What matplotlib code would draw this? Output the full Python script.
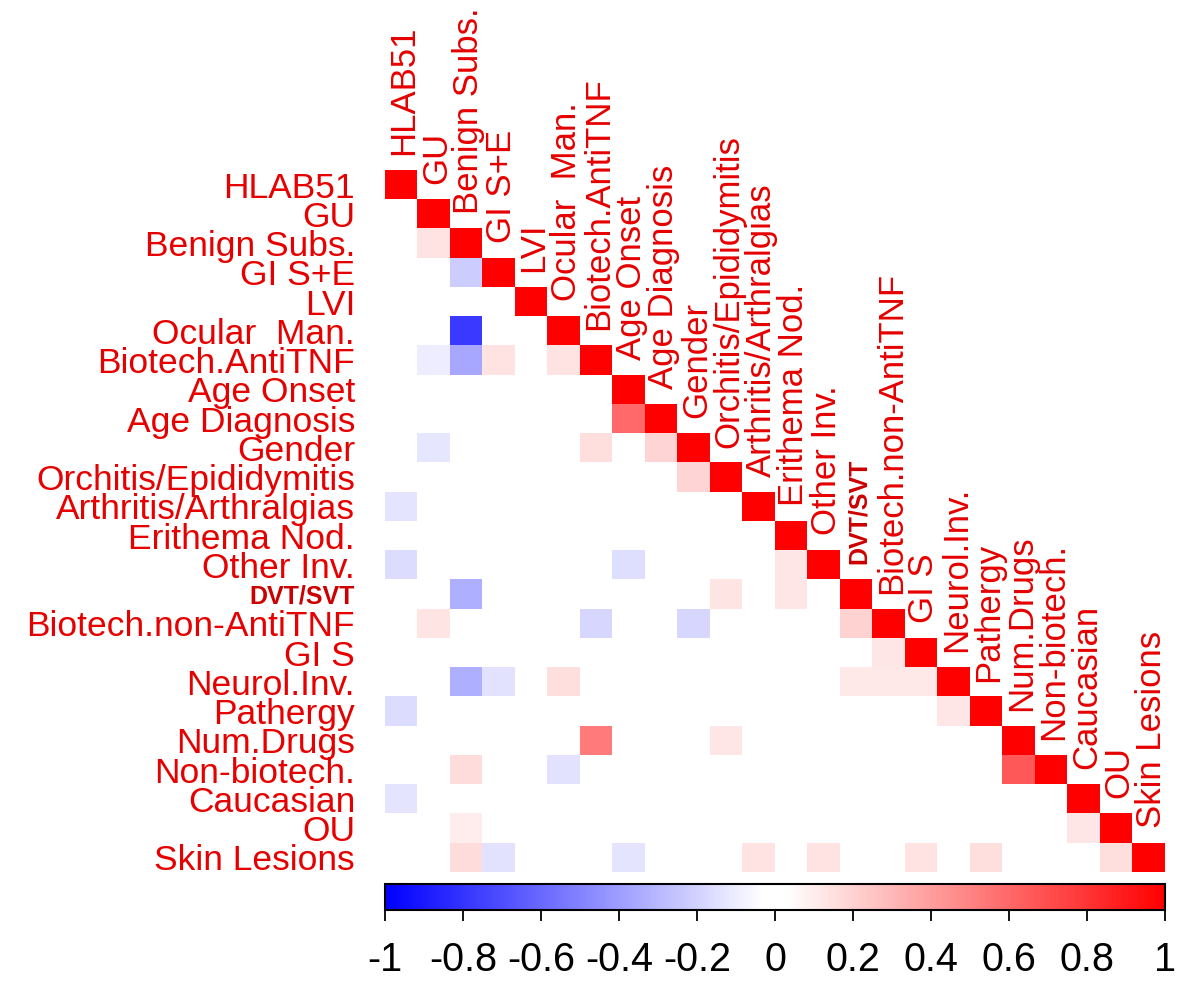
import numpy as np
import matplotlib.pyplot as plt
from matplotlib.colors import LinearSegmentedColormap

plt.rcParams['font.family'] = ['Liberation Sans', 'DejaVu Sans']

# variables, in matrix order
labels = ["HLAB51", "GU", "Benign Subs.", "GI S+E", "LVI", "Ocular  Man.",
          "Biotech.AntiTNF", "Age Onset", "Age Diagnosis", "Gender",
          "Orchitis/Epididymitis", "Arthritis/Arthralgias", "Erithema Nod.",
          "Other Inv.", "DVT/SVT", "Biotech.non-AntiTNF", "GI S", "Neurol.Inv.",
          "Pathergy", "Num.Drugs", "Non-biotech.", "Caucasian", "OU", "Skin Lesions"]

# non-zero off-diagonal correlations (row variable, column variable, r)
links = [
    ("Benign Subs.", "GU", 0.14),
    ("GI S+E", "Benign Subs.", -0.22),
    ("Ocular  Man.", "Benign Subs.", -0.78),
    ("Biotech.AntiTNF", "GU", -0.1),
    ("Biotech.AntiTNF", "Benign Subs.", -0.36),
    ("Biotech.AntiTNF", "GI S+E", 0.14),
    ("Biotech.AntiTNF", "Ocular  Man.", 0.14),
    ("Age Diagnosis", "Age Onset", 0.6),
    ("Gender", "GU", -0.12),
    ("Gender", "Biotech.AntiTNF", 0.15),
    ("Gender", "Age Diagnosis", 0.19),
    ("Orchitis/Epididymitis", "Gender", 0.19),
    ("Arthritis/Arthralgias", "HLAB51", -0.13),
    ("Other Inv.", "HLAB51", -0.16),
    ("Other Inv.", "Age Onset", -0.15),
    ("Other Inv.", "Erithema Nod.", 0.12),
    ("DVT/SVT", "Benign Subs.", -0.33),
    ("DVT/SVT", "Orchitis/Epididymitis", 0.13),
    ("DVT/SVT", "Erithema Nod.", 0.12),
    ("Biotech.non-AntiTNF", "GU", 0.13),
    ("Biotech.non-AntiTNF", "Biotech.AntiTNF", -0.18),
    ("Biotech.non-AntiTNF", "Gender", -0.18),
    ("Biotech.non-AntiTNF", "DVT/SVT", 0.2),
    ("GI S", "Biotech.non-AntiTNF", 0.12),
    ("Neurol.Inv.", "Benign Subs.", -0.33),
    ("Neurol.Inv.", "GI S+E", -0.14),
    ("Neurol.Inv.", "Ocular  Man.", 0.15),
    ("Neurol.Inv.", "DVT/SVT", 0.11),
    ("Neurol.Inv.", "Biotech.non-AntiTNF", 0.11),
    ("Neurol.Inv.", "GI S", 0.11),
    ("Pathergy", "HLAB51", -0.16),
    ("Pathergy", "Neurol.Inv.", 0.12),
    ("Num.Drugs", "Biotech.AntiTNF", 0.53),
    ("Num.Drugs", "Orchitis/Epididymitis", 0.12),
    ("Non-biotech.", "Benign Subs.", 0.16),
    ("Non-biotech.", "Ocular  Man.", -0.14),
    ("Non-biotech.", "Num.Drugs", 0.66),
    ("Caucasian", "HLAB51", -0.13),
    ("OU", "Benign Subs.", 0.1),
    ("OU", "Caucasian", 0.12),
    ("Skin Lesions", "Benign Subs.", 0.16),
    ("Skin Lesions", "GI S+E", -0.14),
    ("Skin Lesions", "Age Onset", -0.13),
    ("Skin Lesions", "Arthritis/Arthralgias", 0.14),
    ("Skin Lesions", "Other Inv.", 0.14),
    ("Skin Lesions", "GI S", 0.14),
    ("Skin Lesions", "Pathergy", 0.15),
    ("Skin Lesions", "OU", 0.15),
]

cbar_ticks = [-1, -0.8, -0.6, -0.4, -0.2, 0, 0.2, 0.4, 0.6, 0.8, 1]
cbar_ticklabels = ["-1", "-0.8", "-0.6", "-0.4", "-0.2", "0", "0.2", "0.4", "0.6", "0.8", "1"]

# build lower triangular matrix
n = len(labels)
idx = {name: k for k, name in enumerate(labels)}
corr = np.full((n, n), np.nan)
for i in range(n):
    corr[i, :i] = 0.0
    corr[i, i] = 1.0
for a, b, r in links:
    corr[idx[a], idx[b]] = r

cmap = LinearSegmentedColormap.from_list(
    "bwr_corr", [(0, "#0000ff"), (0.485, "#ffffff"), (0.515, "#ffffff"), (1, "#ff0000")])
cmap.set_bad("white")

txt_red = "#e60000"

fig = plt.figure(figsize=(11.81, 9.92), dpi=100)
W, H = 1181, 992
ax = fig.add_axes([385 / W, 1 - 872 / H, 780 / W, 702 / H])
im = ax.imshow(np.ma.masked_invalid(corr), cmap=cmap, vmin=-1, vmax=1,
               aspect="auto", interpolation="nearest")
ax.set_xlim(-0.5, n - 0.5)
ax.set_ylim(n - 0.5, -0.5)
ax.set_axis_off()

# labels on the left and along the diagonal
for k, name in enumerate(labels):
    if name == "DVT/SVT":
        kw = dict(fontsize=18, fontweight="bold", color="#cc0000")
        kw_top = dict(fontsize=18, fontweight="bold", color="#cc0000")
    else:
        kw = dict(fontsize=25.5, color=txt_red)
        kw_top = dict(fontsize=25, color=txt_red)
    ax.text(-0.5 - 30 / 32.5, k, name, ha="right", va="center_baseline",
            clip_on=False, **kw)
    ax.text(k + 0.08, k - 0.5 - 15 / 29.25, name, rotation=90, ha="center",
            va="bottom", clip_on=False, **kw_top)

# colour bar under the matrix
cax = fig.add_axes([385 / W, 1 - 910 / H, 780 / W, 26 / H])
cb = fig.colorbar(im, cax=cax, orientation="horizontal", ticks=cbar_ticks)
cb.set_ticklabels(cbar_ticklabels)
cb.outline.set_linewidth(1.5)
cb.ax.tick_params(length=8, width=1.3, labelsize=28.5, pad=14, colors="black")

fig.savefig("out.png", dpi=100, facecolor="white")
